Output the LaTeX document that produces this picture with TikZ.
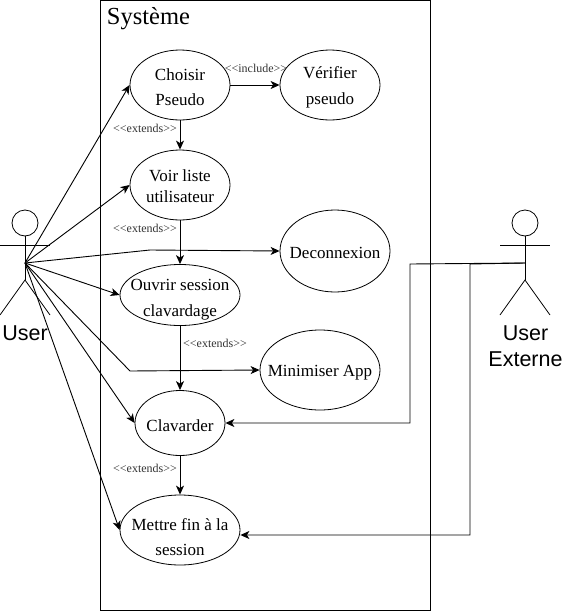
\documentclass[tikz,border=0pt]{standalone}
\usepackage{fontspec}
\setmainfont{Liberation Serif}
\setsansfont{Liberation Sans}
\usetikzlibrary{shapes.geometric,arrows.meta}
\newcommand{\topline}[1]{\rule{0pt}{#1pt}}
\tikzset{
    usecase/.style={draw,ellipse,inner sep=-45pt,align=center,line width=0.8pt,font=\fontsize{17}{25.5}\selectfont},
    stereo/.style={inner sep=0pt,text=black!80,font=\fontsize{12}{14}\selectfont},
    actorname/.style={inner sep=0pt,align=center,font=\sffamily\fontsize{21.5}{26}\selectfont},
    arr/.style={-{Stealth[length=9pt,width=8pt,inset=2.5pt]},line width=0.9pt}
}
\begin{document}
\begin{tikzpicture}[x=1pt,y=-1pt,line width=0.9pt]
        \useasboundingbox (0,0) rectangle (564,611);
        \node[draw,minimum width=330pt,minimum height=610pt,inner sep=0pt,anchor=north west] (systeme) at (100,0) {};
        \node[anchor=base west,inner sep=0pt,font=\fontsize{24.5}{28}\selectfont] (titre) at (106.5,24) {Système};
        % use cases
        \node[usecase,minimum width=100pt,minimum height=70pt] (choisir) at (180,85) {\topline{16.6}Choisir\\Pseudo};
        \node[usecase,minimum width=100pt,minimum height=70pt] (verifier) at (330,85) {\topline{16.6}Vérifier\\pseudo};
        \node[usecase,minimum width=100pt,minimum height=70pt,font=\fontsize{17}{21}\selectfont] (voir) at (180,185) {\topline{13.6}Voir liste\\utilisateur};
        \node[usecase,minimum width=110pt,minimum height=82pt] (deco) at (335,251) {\topline{15}Deconnexion};
        \node[usecase,minimum width=120pt,minimum height=61pt] (ouvrir) at (180,295) {\topline{20.6}Ouvrir session\\clavardage};
        \node[usecase,minimum width=120pt,minimum height=80pt] (minimiser) at (320,370) {\topline{17}Minimiser App};
        \node[usecase,minimum width=90pt,minimum height=65pt] (clavarder) at (180,423) {\topline{17}Clavarder};
        \node[usecase,minimum width=120pt,minimum height=70pt] (mettre) at (180,530) {\topline{26.6}Mettre fin à la\\session};
        % actors
        \foreach \name/\x in {user/25,ext/525} {
            \node[draw,circle,minimum size=26pt,inner sep=0pt,line width=0.8pt] (\name head) at (\x,223) {};
            \coordinate (\name hub) at (\x,263);
            \coordinate (\name hip) at (\x,280);
            \draw[line width=0.8pt] (\name head.south) -- (\name hip);
            \draw[line width=0.8pt] (\x-25,245) -- (\x+25,245);
            \draw[line width=0.8pt] (\x-25,315) -- (\name hip) -- (\x+25,315);
        }
        \node[actorname] (username) at (25,333) {User};
        \node[actorname] (extname) at (525.5,346) {User\\Externe};
        % bends
        \coordinate (decobend) at (150,250);
        \coordinate (minibend) at (130,371);
        \coordinate (clavtop) at (470,264);
        \coordinate (clavbend) at (410,264);
        \coordinate (clavdown) at (410,423);
        \coordinate (mettredown) at (470,535);
        % links
        \foreach \cible in {choisir.west,voir.west,ouvrir.west,clavarder.west,mettre.west} {
            \draw[arr] (userhub) -- (\cible);
        }
        \draw[arr] (userhub) -- (decobend) -- (deco.west);
        \draw[arr] (userhub) -- (minibend) -- (minimiser.west);
        \draw[arr] (exthub) -- (clavbend) -- (clavdown) -- (clavarder.east);
        \draw[arr] (exthub) -- (clavtop) -- (mettredown) -- (mettredown -| mettre.east);
        \draw[arr] (choisir) -- (verifier);
        \foreach \a/\b in {choisir/voir,voir/ouvrir,ouvrir/clavarder,clavarder/mettre} {
            \draw[arr] (\a) -- (\b);
        }
        % labels
        \node[stereo] (inclabel) at (256,68) {<{}<include>{}>};
        \foreach \n/\x/\y in {ext1/145/128,ext2/145/228,ext3/215/343,ext4/145/468} {
            \node[stereo] (\n) at (\x,\y) {<{}<extends>{}>};
        }
\end{tikzpicture}
\end{document}
